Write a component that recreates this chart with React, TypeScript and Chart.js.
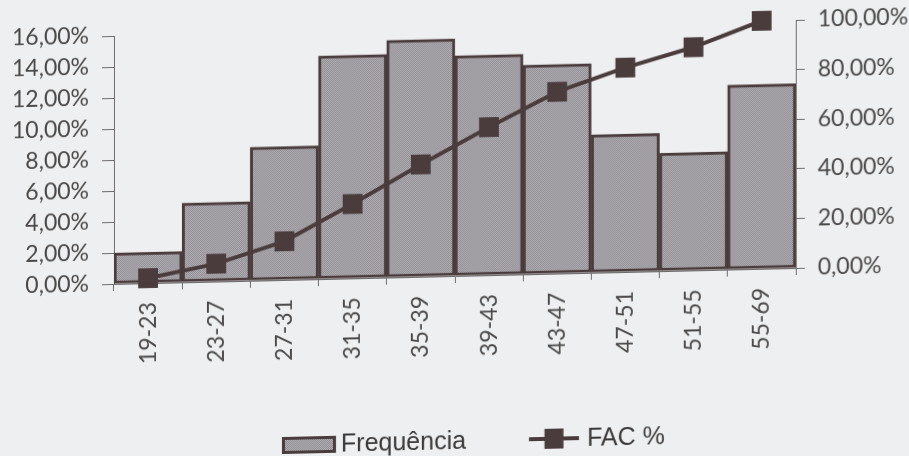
import React, { useEffect, useRef } from "react";
import { Chart, registerables } from "chart.js";

Chart.register(...registerables);

const categories = ["19-23", "23-27", "27-31", "31-35", "35-39", "39-43", "43-47", "47-51", "51-55", "55-69"];
const frequencia = [2.0, 5.1, 8.6, 14.4, 15.3, 14.2, 13.5, 8.9, 7.6, 11.9];
const facPercent = [2.0, 7.2, 15.6, 30.0, 45.3, 59.7, 73.3, 82.4, 90.0, 100.0];
const seriesNames = ["Frequência", "FAC %"];
const leftAxis = { min: 0, max: 16, step: 2 };
const rightAxis = { min: 0, max: 100, step: 20 };

const BG = "#eeeff0";
const DARK = "#4a3b3c";
const TEXT = "#4a4848";
const AXIS = "#6e6c6e";

function fmt(v: number): string {
  return v.toFixed(2).replace(".", ",") + "%";
}

function makePattern(): CanvasPattern | string {
  const c = document.createElement("canvas");
  c.width = 2;
  c.height = 2;
  const g = c.getContext("2d");
  if (!g) return "#a3a1a5";
  g.fillStyle = "#b4b2b6";
  g.fillRect(0, 0, 2, 2);
  g.fillStyle = "#8e8b90";
  g.fillRect(0, 0, 1, 1);
  g.fillRect(1, 1, 1, 1);
  const p = g.createPattern(c, "repeat");
  return p || "#a3a1a5";
}

export default function App() {
  const ref = useRef<HTMLCanvasElement | null>(null);

  useEffect(() => {
    if (!ref.current) return;
    const pattern = makePattern();

    const bgPlugin = {
      id: "bg",
      beforeDraw(chart: any) {
        const ctx = chart.ctx;
        ctx.save();
        ctx.fillStyle = BG;
        ctx.fillRect(0, 0, chart.width, chart.height);
        ctx.restore();
      },
    };

    const legendPlugin = {
      id: "customLegend",
      afterDraw(chart: any) {
        const ctx = chart.ctx;
        ctx.save();
        const cy = chart.height - 15;
        ctx.font = "25px 'Liberation Sans', Arial, sans-serif";
        ctx.textBaseline = "middle";
        ctx.fillStyle = "#3a3838";
        const w1 = ctx.measureText(seriesNames[0]).width;
        const w2 = ctx.measureText(seriesNames[1]).width;
        const sw = 54;
        const gapText = 5;
        const itemGap = 63;
        const lw = 50;
        const total = sw + gapText + w1 + itemGap + lw + gapText + 3 + w2;
        let x = chart.width / 2 + 19 - total / 2;
        // bar swatch
        ctx.fillStyle = pattern as any;
        ctx.fillRect(x, cy - 8, sw, 17);
        ctx.strokeStyle = DARK;
        ctx.lineWidth = 3;
        ctx.strokeRect(x + 1.5, cy - 8 + 1.5, sw - 3, 17 - 3);
        x += sw + gapText;
        ctx.fillStyle = "#3a3838";
        ctx.fillText(seriesNames[0], x, cy + 1);
        x += w1 + itemGap;
        // line swatch
        ctx.strokeStyle = DARK;
        ctx.lineWidth = 4;
        ctx.beginPath();
        ctx.moveTo(x, cy);
        ctx.lineTo(x + lw, cy);
        ctx.stroke();
        ctx.fillStyle = DARK;
        ctx.fillRect(x + lw / 2 - 9.5, cy - 10, 19, 20);
        x += lw + gapText + 3;
        ctx.fillStyle = "#3a3838";
        ctx.fillText(seriesNames[1], x, cy + 1);
        ctx.restore();
      },
    };

    const axisFont = { family: "Lato, 'Open Sans', sans-serif", size: 23 };

    const chart = new Chart(ref.current, {
      type: "bar",
      data: {
        labels: categories,
        datasets: [
          {
            type: "line",
            label: seriesNames[1],
            data: facPercent,
            yAxisID: "y1",
            borderColor: DARK,
            borderWidth: 4,
            backgroundColor: DARK,
            pointStyle: "rect",
            pointRadius: 14,
            pointBorderWidth: 0,
            pointBackgroundColor: DARK,
            tension: 0,
            clip: false,
            order: 0,
          } as any,
          {
            type: "bar",
            label: seriesNames[0],
            data: frequencia,
            yAxisID: "y",
            backgroundColor: pattern as any,
            borderColor: DARK,
            borderWidth: 3,
            borderSkipped: false,
            categoryPercentage: 1,
            barPercentage: 1,
            order: 1,
          } as any,
        ],
      },
      options: {
        animation: false,
        responsive: true,
        maintainAspectRatio: false,
        layout: { padding: { top: 28, bottom: 60, left: 0, right: 0 } },
        plugins: {
          legend: { display: false },
          tooltip: { enabled: false },
        },
        scales: {
          x: {
            type: "category",
            offset: true,
            grid: {
              display: true,
              offset: true,
              drawOnChartArea: false,
              drawTicks: true,
              tickLength: 7,
              color: AXIS,
            },
            border: { display: true, color: AXIS, width: 1 },
            ticks: {
              font: axisFont,
              color: TEXT,
              minRotation: 90,
              maxRotation: 90,
              autoSkip: false,
              padding: 12,
            },
            afterFit(scale: any) {
              scale.height = 120;
            },
          },
          y: {
            position: "left",
            min: leftAxis.min,
            max: leftAxis.max,
            grid: {
              display: true,
              drawOnChartArea: false,
              drawTicks: true,
              tickLength: 12,
              color: AXIS,
            },
            border: { display: true, color: AXIS, width: 1 },
            ticks: {
              stepSize: leftAxis.step,
              font: axisFont,
              color: TEXT,
              padding: 13,
              callback: (v: any) => fmt(Number(v)),
            },
            afterFit(scale: any) {
              scale.width = 114;
            },
          },
          y1: {
            position: "right",
            min: rightAxis.min,
            max: rightAxis.max,
            grid: {
              display: true,
              drawOnChartArea: false,
              drawTicks: true,
              tickLength: 9,
              color: AXIS,
            },
            border: { display: true, color: AXIS, width: 1 },
            ticks: {
              stepSize: rightAxis.step,
              font: axisFont,
              color: TEXT,
              padding: 13,
              callback: (v: any) => fmt(Number(v)),
            },
            afterFit(scale: any) {
              scale.width = 113;
            },
          },
        },
      },
      plugins: [bgPlugin, legendPlugin],
    } as any);

    return () => {
      chart.destroy();
    };
  }, []);

  return (
    <div
      style={{
        position: "fixed",
        left: 0,
        top: 0,
        width: 909,
        height: 456,
        background: BG,
        overflow: "hidden",
      }}
    >
      <div
        style={{
          position: "relative",
          width: 909,
          height: 456,
          transform: "skewY(-1.34deg)",
          transformOrigin: "454.5px 228px",
        }}
      >
        <canvas ref={ref} />
      </div>
    </div>
  );
}
